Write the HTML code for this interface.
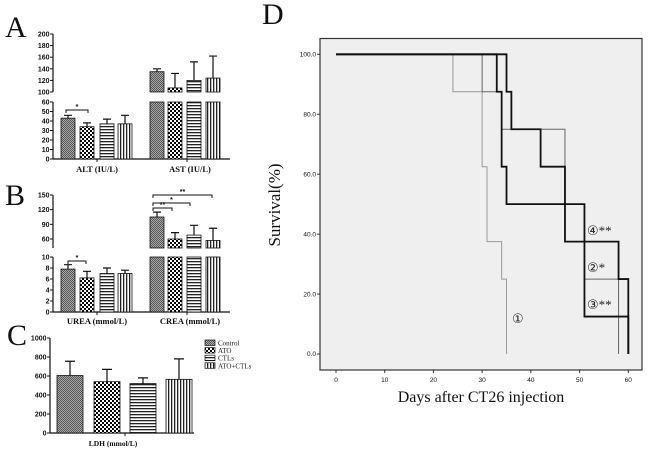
<!DOCTYPE html>
<html><head><meta charset="utf-8"><style>
body{margin:0;background:#fff;width:650px;height:450px;overflow:hidden}
svg{display:block}
.tk{font:bold 7px "Liberation Sans",sans-serif;fill:#111}
.lb{font:bold 8.5px "Liberation Serif",serif;fill:#111}
.pl{font:30px "Liberation Serif",serif;fill:#111}
.dt{font:6.5px "Liberation Sans",sans-serif;fill:#111}
</style></head><body>
<svg id="fig" width="650" height="450" xmlns="http://www.w3.org/2000/svg">
<defs>
<pattern id="p0" width="2" height="2" patternUnits="userSpaceOnUse"><rect width="2" height="2" fill="#aaa"/><rect width="1" height="1" fill="#555"/><rect x="1" y="1" width="1" height="1" fill="#555"/></pattern>
<pattern id="p1" width="4" height="4" patternUnits="userSpaceOnUse"><rect width="4" height="4" fill="#fff"/><rect width="2" height="2" fill="#000"/><rect x="2" y="2" width="2" height="2" fill="#000"/></pattern>
<pattern id="p2" width="3" height="3" patternUnits="userSpaceOnUse"><rect width="3" height="3" fill="#fff"/><rect width="3" height="1.3" fill="#222"/></pattern>
<pattern id="p3" width="3" height="3" patternUnits="userSpaceOnUse"><rect width="3" height="3" fill="#fff"/><rect width="1.3" height="3" fill="#222"/></pattern>
</defs>
<text class="pl" x="5" y="37">A</text>
<text class="pl" x="5" y="205">B</text>
<text class="pl" x="7" y="345">C</text>
<text class="pl" x="262" y="24">D</text>
<g id="gA"></g><g id="gB"></g><g id="gC"></g><g id="gD"></g>
</svg>
<script>
const NS="http://www.w3.org/2000/svg";
function mk(p,t,a,txt){const e=document.createElementNS(NS,t);for(const k in a)e.setAttribute(k,a[k]);if(txt!=null)e.textContent=txt;p.appendChild(e);return e;}
const groups=["Control","ATO","CTLs","ATO+CTLs"];
// Panel A
const altMean=[43,34,37,37], altErr=[3,4,5,9];
const astMean=[135,107,120,124], astErr=[5,25,32,38];
const aLowTicks=[0,10,20,30,40,50,60], aHighTicks=[100,120,140,160,180,200];
// Panel B
const ureaMean=[7.8,6.2,7,7], ureaErr=[0.8,1.2,1,0.6];
const creaMean=[105,60,68,57], creaErr=[10,13,20,25];
const bLowTicks=[0,2,4,6,8,10], bHighTicks=[60,90,120,150];
// Panel C
const ldhMean=[605,540,520,565], ldhErr=[150,130,60,215];
const cTicks=[0,200,400,600,800,1000];
// Panel D
const dXTicks=[0,10,20,30,40,50,60], dYTicks=[0,20,40,60,80,100];
const s1Days=[0,24,30,31,34,35], s1Surv=[100,87.5,62.5,37.5,25,0];
const s2Days=[0,30,34,47,51,58], s2Surv=[100,87.5,75,50,25,0];
const s3Days=[0,33,34,35,51,60], s3Surv=[100,87.5,62.5,50,12.5,0];
const s4Days=[0,35,36,42,47,58,60], s4Surv=[100,87.5,75,62.5,37.5,25,0];

const barX=[[61,80,100,118],[150,168,187,206]], bw=14;
function lin(d0,d1,r0,r1){return v=>r0+(v-d0)*(r1-r0)/(d1-d0);}
function bar(g,x,yTop,yBot,i,name){const r=mk(g,"rect",{x:x,y:yTop,width:bw,height:Math.max(0,yBot-yTop),fill:"url(#p"+i+")",stroke:"#111","stroke-width":0.8});

}
function err(g,x,y0,y1){mk(g,"path",{d:`M${x+bw/2},${y0}V${y1}M${x+bw/2-4},${y1}H${x+bw/2+4}`,stroke:"#111","stroke-width":1.2,fill:"none"});}
function yaxis(g,x,y0,y1,ticks,sc){mk(g,"line",{x1:x,x2:x,y1:y0,y2:y1,stroke:"#111","stroke-width":1.2});
ticks.forEach(t=>{const y=sc(t);mk(g,"line",{x1:x-3,x2:x,y1:y,y2:y,stroke:"#111","stroke-width":1});const tx=mk(g,"text",{x:x-3.5,y:y+2.5,"text-anchor":"end",class:"tk"},t);

});}
function bracket(g,x1,x2,y,s){mk(g,"path",{d:`M${x1},${y+3}V${y}H${x2}V${y+3}`,stroke:"#111","stroke-width":1,fill:"none"});mk(g,"text",{x:(x1+x2)/2,y:y-1,"text-anchor":"middle",class:"tk"},s);}
function breakPanel(g,lowM,lowE,highM,highE,lowSc,highSc,lowTop,lowBot,highTop,highBot,lowT,highT,labels,yLabel,names){
 yaxis(g,53,lowTop,lowBot,lowT,lowSc);yaxis(g,53,highTop,highBot,highT,highSc);
 mk(g,"line",{x1:53,x2:230,y1:lowBot,y2:lowBot,stroke:"#111","stroke-width":1.2});
 [97,187].forEach(x=>mk(g,"line",{x1:x,x2:x,y1:lowBot,y2:lowBot+3,stroke:"#111"}));
 lowM.forEach((m,i)=>{const x=barX[0][i];bar(g,x,lowSc(m),lowBot,i,names[0]+"-bar-"+i);err(g,x,lowSc(m),lowSc(m+lowE[i]));});
 highM.forEach((m,i)=>{const x=barX[1][i];bar(g,x,lowTop,lowBot,i,names[1]+"-bar-low-"+i);bar(g,x,highSc(m),highBot,i,names[1]+"-bar-"+i);err(g,x,highSc(m),highSc(m+highE[i]));});
 labels.forEach((l,k)=>{const t=mk(g,"text",{x:[97,190][k],y:yLabel,"text-anchor":"middle",class:"lb"},l);
 
 });
}
// A
const gA=document.getElementById("gA");


const aLow=lin(0,60,159,102), aHigh=lin(100,200,92,34);
breakPanel(gA,altMean,altErr,astMean,astErr,aLow,aHigh,102,159,34,92,aLowTicks,aHighTicks,["ALT (IU/L)","AST (IU/L)"],172,["alt","ast"]);
bracket(gA,66,88,110,"*");
// B
const gB=document.getElementById("gB");


const bLow=lin(0,10,312,257), bHigh=lin(60,150,239,195);
breakPanel(gB,ureaMean,ureaErr,creaMean,creaErr,bLow,bHigh,257,312,195,248,bLowTicks,bHighTicks,["UREA (mmol/L)","CREA (mmol/L)"],324,["urea","crea"]);
bracket(gB,68,86,261,"*");
bracket(gB,153,212,195,"**");bracket(gB,153,190,203,"*");bracket(gB,153,172,208,"**");
// C
const gC=document.getElementById("gC");


const cSc=lin(0,1000,433,338);
yaxis(gC,50,338,433,cTicks,cSc);
mk(gC,"line",{x1:50,x2:194,y1:433,y2:433,stroke:"#111","stroke-width":1.2});
mk(gC,"line",{x1:125,x2:125,y1:433,y2:436,stroke:"#111"});
const cX=[57,94,130,166];
ldhMean.forEach((m,i)=>{const r=mk(gC,"rect",{x:cX[i],y:cSc(m),width:26,height:433-cSc(m),fill:"url(#p"+i+")",stroke:"#111","stroke-width":0.8});


mk(gC,"path",{d:`M${cX[i]+13},${cSc(m)}V${cSc(m+ldhErr[i])}M${cX[i]+8},${cSc(m+ldhErr[i])}H${cX[i]+18}`,stroke:"#111","stroke-width":1.2,fill:"none"});});
const lt=mk(gC,"text",{x:113,y:446,"text-anchor":"middle",class:"lb",style:"font-size:7.5px"},"LDH (mmol/L)");


groups.forEach((gname,i)=>{const y=340+i*7.6;const le=mk(gC,"g",{});


mk(le,"rect",{x:205,y:y,width:10,height:5.5,fill:"url(#p"+i+")",stroke:"#111","stroke-width":0.7});
mk(le,"text",{x:218,y:y+5.5,style:'font:7px "Liberation Serif",serif',fill:"#222"},gname);});
// D
const gD=document.getElementById("gD");


const dx=lin(0,60,336,628.3), dy=lin(0,100,354,54.3);
const pb=mk(gD,"rect",{x:320,y:38.5,width:322,height:331.5,fill:"#efefef",stroke:"#333","stroke-width":1.2});


dYTicks.forEach(t=>{mk(gD,"line",{x1:317,x2:320,y1:dy(t),y2:dy(t),stroke:"#333"});const tx=mk(gD,"text",{x:316,y:dy(t)+2.2,"text-anchor":"end",class:"dt"},t.toFixed(1));

});
dXTicks.forEach(t=>{mk(gD,"line",{x1:dx(t),x2:dx(t),y1:370,y2:373,stroke:"#333"});const tx=mk(gD,"text",{x:dx(t),y:382,"text-anchor":"middle",class:"dt"},t);

});
function km(days,surv,col,w,name){let d=`M${dx(days[0])},${dy(surv[0])}`;for(let i=1;i<days.length;i++){d+=`H${dx(days[i])}V${dy(surv[i])}`;}
const p=mk(gD,"path",{d:d,stroke:col,"stroke-width":w,fill:"none"});

}
km(s1Days,s1Surv,"#999",1,"survival-curve-control");
km(s2Days,s2Surv,"#666",1,"survival-curve-ato");
km(s3Days,s3Surv,"#111",1.8,"survival-curve-ctls");
km(s4Days,s4Surv,"#111",1.8,"survival-curve-ato-ctls");
[["①",512,323],["④**",587,235],["②*",587,272],["③**",587,309]].forEach(a=>{const t=mk(gD,"text",{x:a[1],y:a[2],style:'font:13px "Liberation Serif","DejaVu Sans",sans-serif',fill:"#222"},a[0]);

});
const yt=mk(gD,"text",{x:0,y:0,transform:"translate(280,205) rotate(-90)","text-anchor":"middle",style:'font:17px "Liberation Serif",serif',fill:"#111"},"Survival(%)");


const xt=mk(gD,"text",{x:481,y:402,"text-anchor":"middle",style:'font:16px "Liberation Serif",serif',fill:"#111"},"Days after CT26 injection");


</script>
</body></html>
